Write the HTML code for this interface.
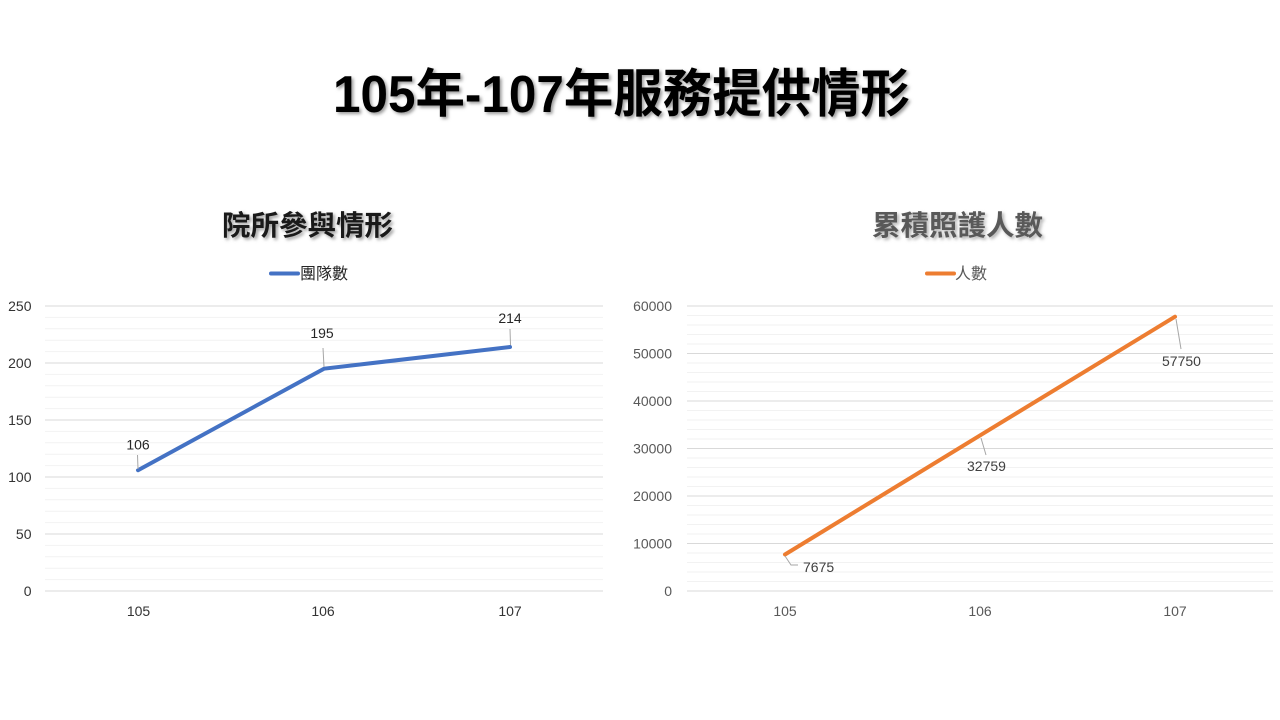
<!DOCTYPE html>
<html>
<head>
<meta charset="utf-8">
<style>
html,body{margin:0;padding:0;background:#fff;}
svg{display:block;}
text{font-family:"Liberation Sans","Noto Sans CJK TC","Noto Sans CJK SC",sans-serif;}
</style>
</head>
<body>
<svg width="1280" height="720" viewBox="0 0 1280 720" xmlns="http://www.w3.org/2000/svg">
<defs>
<filter id="sh" x="-10%" y="-30%" width="120%" height="160%">
<feGaussianBlur stdDeviation="1.6"/>
</filter>
</defs>
<rect width="1280" height="720" fill="#fff"/>

<!-- Main title -->
<text x="335" y="114" font-size="52" font-weight="bold" fill="#9a9a9a" filter="url(#sh)" textLength="577" lengthAdjust="spacingAndGlyphs">105年-107年服務提供情形</text>
<text x="333" y="112" font-size="52" font-weight="bold" fill="#000" textLength="577" lengthAdjust="spacingAndGlyphs">105年-107年服務提供情形</text>

<!-- Left subtitle -->
<text x="224" y="237" font-size="28" font-weight="bold" fill="#9a9a9a" filter="url(#sh)" textLength="171" lengthAdjust="spacingAndGlyphs">院所參與情形</text>
<text x="222" y="235" font-size="28" font-weight="bold" fill="#1a1a1a" textLength="171" lengthAdjust="spacingAndGlyphs">院所參與情形</text>

<!-- Right subtitle -->
<text x="874" y="237" font-size="28" font-weight="bold" fill="#b0b0b0" filter="url(#sh)" textLength="171" lengthAdjust="spacingAndGlyphs">累積照護人數</text>
<text x="872" y="235" font-size="28" font-weight="bold" fill="#595959" textLength="171" lengthAdjust="spacingAndGlyphs">累積照護人數</text>

<!-- Legends -->
<line x1="271" y1="273.5" x2="298" y2="273.5" stroke="#4472c4" stroke-width="4" stroke-linecap="round"/>
<text x="300" y="279" font-size="16" fill="#262626">團隊數</text>
<line x1="927" y1="273.5" x2="954" y2="273.5" stroke="#ed7d31" stroke-width="4" stroke-linecap="round"/>
<text x="955" y="279" font-size="16" fill="#595959">人數</text>

<!-- Left grid -->
<g stroke-width="1">
<g stroke="#f2f2f2">
<line x1="45" x2="603" y1="579.6" y2="579.6"/><line x1="45" x2="603" y1="568.2" y2="568.2"/><line x1="45" x2="603" y1="556.8" y2="556.8"/><line x1="45" x2="603" y1="545.4" y2="545.4"/>
<line x1="45" x2="603" y1="522.6" y2="522.6"/><line x1="45" x2="603" y1="511.2" y2="511.2"/><line x1="45" x2="603" y1="499.8" y2="499.8"/><line x1="45" x2="603" y1="488.4" y2="488.4"/>
<line x1="45" x2="603" y1="465.6" y2="465.6"/><line x1="45" x2="603" y1="454.2" y2="454.2"/><line x1="45" x2="603" y1="442.8" y2="442.8"/><line x1="45" x2="603" y1="431.4" y2="431.4"/>
<line x1="45" x2="603" y1="408.6" y2="408.6"/><line x1="45" x2="603" y1="397.2" y2="397.2"/><line x1="45" x2="603" y1="385.8" y2="385.8"/><line x1="45" x2="603" y1="374.4" y2="374.4"/>
<line x1="45" x2="603" y1="351.6" y2="351.6"/><line x1="45" x2="603" y1="340.2" y2="340.2"/><line x1="45" x2="603" y1="328.8" y2="328.8"/><line x1="45" x2="603" y1="317.4" y2="317.4"/>
</g>
<g stroke="#d9d9d9">
<line x1="45" x2="603" y1="591" y2="591"/><line x1="45" x2="603" y1="534" y2="534"/><line x1="45" x2="603" y1="477" y2="477"/><line x1="45" x2="603" y1="420" y2="420"/><line x1="45" x2="603" y1="363" y2="363"/><line x1="45" x2="603" y1="306" y2="306"/>
</g>
</g>

<!-- Left y ticks -->
<g font-size="14" fill="#333" text-anchor="end">
<text x="31.5" y="311">250</text>
<text x="31.5" y="368">200</text>
<text x="31.5" y="425">150</text>
<text x="31.5" y="482">100</text>
<text x="31.5" y="539">50</text>
<text x="31.5" y="596">0</text>
</g>
<!-- Left x ticks -->
<g font-size="14" fill="#333" text-anchor="middle">
<text x="138.5" y="616">105</text>
<text x="323" y="616">106</text>
<text x="510" y="616">107</text>
</g>

<!-- Left series -->
<polyline points="138,470.2 324,368.7 510,347" fill="none" stroke="#4472c4" stroke-width="4" stroke-linejoin="round" stroke-linecap="round"/>
<g stroke="#a6a6a6" stroke-width="1">
<line x1="137.5" y1="455" x2="138" y2="469"/>
<line x1="323" y1="348" x2="324" y2="367"/>
<line x1="510" y1="329" x2="510.5" y2="345"/>
</g>
<g font-size="14" fill="#262626" text-anchor="middle">
<text x="138" y="449.5">106</text>
<text x="322" y="338">195</text>
<text x="510" y="323">214</text>
</g>

<!-- Right grid -->
<g stroke-width="1">
<g stroke="#f2f2f2">
<line x1="687" x2="1273" y1="581.5" y2="581.5"/><line x1="687" x2="1273" y1="572" y2="572"/><line x1="687" x2="1273" y1="562.5" y2="562.5"/><line x1="687" x2="1273" y1="553" y2="553"/>
<line x1="687" x2="1273" y1="534" y2="534"/><line x1="687" x2="1273" y1="524.5" y2="524.5"/><line x1="687" x2="1273" y1="515" y2="515"/><line x1="687" x2="1273" y1="505.5" y2="505.5"/>
<line x1="687" x2="1273" y1="486.5" y2="486.5"/><line x1="687" x2="1273" y1="477" y2="477"/><line x1="687" x2="1273" y1="467.5" y2="467.5"/><line x1="687" x2="1273" y1="458" y2="458"/>
<line x1="687" x2="1273" y1="439" y2="439"/><line x1="687" x2="1273" y1="429.5" y2="429.5"/><line x1="687" x2="1273" y1="420" y2="420"/><line x1="687" x2="1273" y1="410.5" y2="410.5"/>
<line x1="687" x2="1273" y1="391.5" y2="391.5"/><line x1="687" x2="1273" y1="382" y2="382"/><line x1="687" x2="1273" y1="372.5" y2="372.5"/><line x1="687" x2="1273" y1="363" y2="363"/>
<line x1="687" x2="1273" y1="344" y2="344"/><line x1="687" x2="1273" y1="334.5" y2="334.5"/><line x1="687" x2="1273" y1="325" y2="325"/><line x1="687" x2="1273" y1="315.5" y2="315.5"/>
</g>
<g stroke="#d9d9d9">
<line x1="687" x2="1273" y1="591" y2="591"/><line x1="687" x2="1273" y1="543.5" y2="543.5"/><line x1="687" x2="1273" y1="496" y2="496"/><line x1="687" x2="1273" y1="448.5" y2="448.5"/><line x1="687" x2="1273" y1="401" y2="401"/><line x1="687" x2="1273" y1="353.5" y2="353.5"/><line x1="687" x2="1273" y1="306" y2="306"/>
</g>
</g>

<!-- Right y ticks -->
<g font-size="14" fill="#595959" text-anchor="end">
<text x="672" y="311">60000</text>
<text x="672" y="358.5">50000</text>
<text x="672" y="406">40000</text>
<text x="672" y="453.5">30000</text>
<text x="672" y="501">20000</text>
<text x="672" y="548.5">10000</text>
<text x="672" y="596">0</text>
</g>
<!-- Right x ticks -->
<g font-size="14" fill="#595959" text-anchor="middle">
<text x="785" y="616">105</text>
<text x="980" y="616">106</text>
<text x="1175" y="616">107</text>
</g>

<!-- Right series -->
<polyline points="785,554.5 980,435.4 1175,316.7" fill="none" stroke="#ed7d31" stroke-width="4" stroke-linejoin="round" stroke-linecap="round"/>
<g stroke="#a6a6a6" stroke-width="1" fill="none">
<polyline points="785,556 791,565 798,565"/>
<line x1="981" y1="438" x2="986" y2="455"/>
<line x1="1176" y1="319" x2="1181" y2="349"/>
</g>
<g font-size="14" fill="#404040">
<text x="803" y="572">7675</text>
<text x="967" y="471">32759</text>
<text x="1162" y="366">57750</text>
</g>
</svg>
</body>
</html>
